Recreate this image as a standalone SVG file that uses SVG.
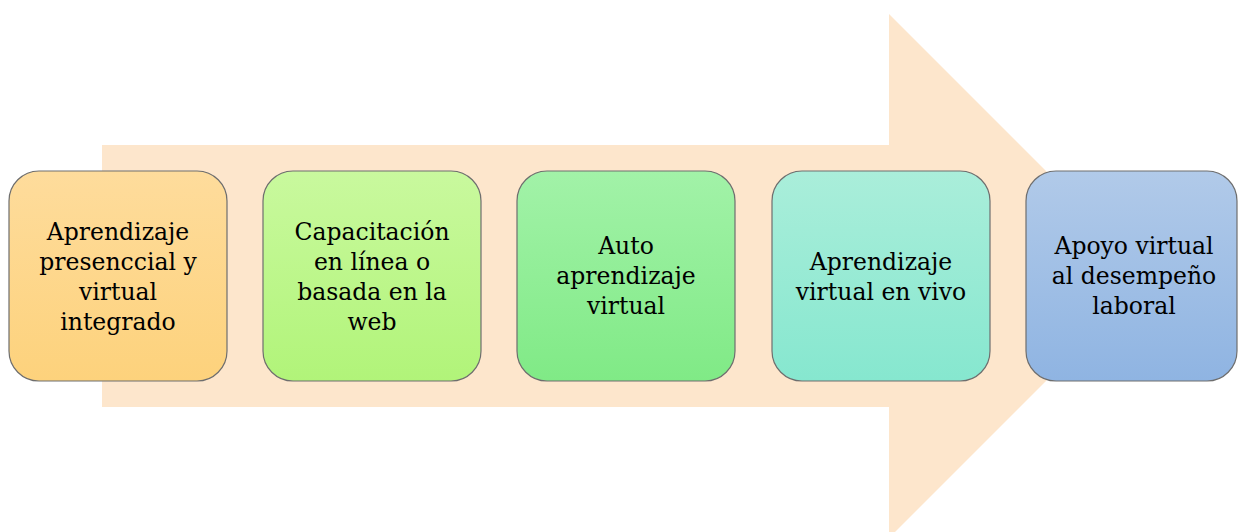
<svg xmlns="http://www.w3.org/2000/svg" width="1238" height="532" viewBox="0 0 1238 532">
<defs>
<linearGradient id="g1" x1="0" y1="0" x2="0" y2="1"><stop offset="0" stop-color="#FEDC9C"/><stop offset="1" stop-color="#FDD27C"/></linearGradient>
<linearGradient id="g2" x1="0" y1="0" x2="0" y2="1"><stop offset="0" stop-color="#C9F99E"/><stop offset="1" stop-color="#B1F479"/></linearGradient>
<linearGradient id="g3" x1="0" y1="0" x2="0" y2="1"><stop offset="0" stop-color="#A2F2A8"/><stop offset="1" stop-color="#80EA86"/></linearGradient>
<linearGradient id="g4" x1="0" y1="0" x2="0" y2="1"><stop offset="0" stop-color="#AAEEDA"/><stop offset="1" stop-color="#86E7CF"/></linearGradient>
<linearGradient id="g5" x1="0" y1="0" x2="0" y2="1"><stop offset="0" stop-color="#B1CAE9"/><stop offset="1" stop-color="#8FB4E2"/></linearGradient>
</defs>
<style>
.box{stroke:#6E6E6E;stroke-width:1.2}
.t{font-family:'DejaVu Serif',serif;font-size:23.5px;fill:#000;text-anchor:middle}
</style>
<g id="arrow">
<path d="M102,145 H889 V14 L1151,276 L889,538 V407 H102 Z" fill="#FDE6CC"/>
</g>
<g id="connectors"></g>
<g id="n1">
<rect class="box" x="9" y="171" width="218" height="210" rx="30" fill="url(#g1)"/>
<text class="t" x="118" y="240">Aprendizaje</text>
<text class="t" x="118" y="270">presenccial y</text>
<text class="t" x="118" y="300">virtual</text>
<text class="t" x="118" y="330">integrado</text>
</g>
<g id="n2">
<rect class="box" x="263" y="171" width="218" height="210" rx="30" fill="url(#g2)"/>
<text class="t" x="372" y="240">Capacitación</text>
<text class="t" x="372" y="270">en línea o</text>
<text class="t" x="372" y="300">basada en la</text>
<text class="t" x="372" y="330">web</text>
</g>
<g id="n3">
<rect class="box" x="517" y="171" width="218" height="210" rx="30" fill="url(#g3)"/>
<text class="t" x="626" y="254">Auto</text>
<text class="t" x="626" y="284">aprendizaje</text>
<text class="t" x="626" y="314">virtual</text>
</g>
<g id="n4">
<rect class="box" x="772" y="171" width="218" height="210" rx="30" fill="url(#g4)"/>
<text class="t" x="881" y="270">Aprendizaje</text>
<text class="t" x="881" y="300">virtual en vivo</text>
</g>
<g id="n5">
<rect class="box" x="1026" y="171" width="211" height="210" rx="30" fill="url(#g5)"/>
<text class="t" x="1134" y="254">Apoyo virtual</text>
<text class="t" x="1134" y="284">al desempeño</text>
<text class="t" x="1134" y="314">laboral</text>
</g>
</svg>
